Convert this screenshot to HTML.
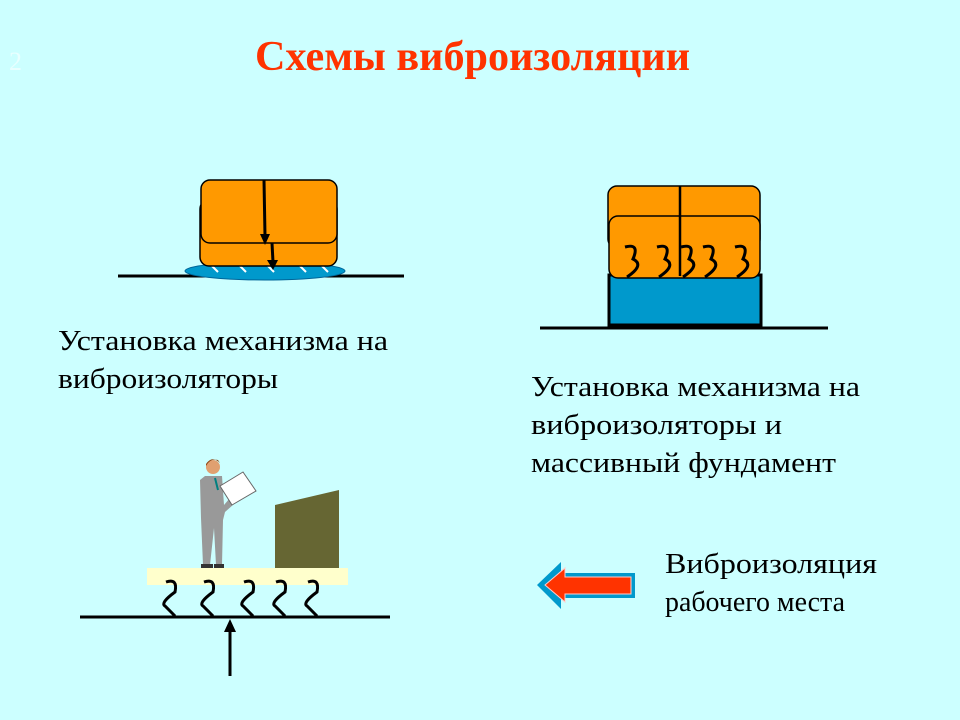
<!DOCTYPE html>
<html><head><meta charset="utf-8"><style>
html,body{margin:0;padding:0;background:#ccffff;}
svg{display:block}
text{font-family:"Liberation Serif",serif;}
</style></head><body>
<svg width="960" height="720" viewBox="0 0 960 720" xmlns="http://www.w3.org/2000/svg">
<rect width="960" height="720" fill="#ccffff"/>
<text x="9" y="70" font-size="26" fill="#e8ffff">2</text>
<text x="255" y="70" font-size="42" font-weight="bold" fill="#ff3300" textLength="435" lengthAdjust="spacingAndGlyphs">Схемы виброизоляции</text>

<!-- diagram 1 -->
<line x1="118" y1="276" x2="404" y2="276" stroke="#000" stroke-width="3"/>
<ellipse cx="265" cy="271" rx="80" ry="9" fill="#0099cc" stroke="#006699" stroke-width="1"/>
<g stroke="#fff" stroke-width="2"><line x1="212" y1="266" x2="218" y2="272"/><line x1="240" y1="266" x2="246" y2="272"/><line x1="268" y1="266" x2="274" y2="272"/><line x1="300" y1="266" x2="306" y2="272"/><line x1="322" y1="266" x2="328" y2="272"/></g>
<rect x="200" y="200" width="137" height="66" rx="9" fill="#ff9900" stroke="#000" stroke-width="1.5"/>
<rect x="201" y="180" width="136" height="63" rx="9" fill="#ff9900" stroke="#000" stroke-width="1.5"/>
<line x1="264" y1="180" x2="265" y2="236" stroke="#000" stroke-width="3"/>
<polygon points="260,234 270,234 265,245" fill="#000"/>
<line x1="272" y1="243" x2="273" y2="262" stroke="#000" stroke-width="3"/>
<polygon points="267,260 278,260 273,270" fill="#000"/>

<!-- diagram 2 -->
<line x1="540" y1="328" x2="828" y2="328" stroke="#000" stroke-width="3"/>
<rect x="609" y="275" width="152" height="50" fill="#0099cc" stroke="#000" stroke-width="3"/>
<rect x="608" y="186" width="152" height="62" rx="9" fill="#ff9900" stroke="#000" stroke-width="1.5"/>
<rect x="609" y="216" width="151" height="62" rx="9" fill="#ff9900" stroke="#000" stroke-width="1.5"/>
<line x1="680" y1="186" x2="680" y2="276" stroke="#000" stroke-width="2.5"/>
<g fill="none" stroke="#000" stroke-width="3">
<path d="M625,247 Q640,243 633,259 Q645,265 627,277"/>
<path d="M657,247 Q672,243 665,259 Q677,265 659,277"/>
<path d="M681,247 Q696,243 689,259 Q701,265 683,277"/>
<path d="M703,247 Q718,243 711,259 Q723,265 705,277"/>
<path d="M735,247 Q750,243 743,259 Q755,265 737,277"/>
</g>

<text x="58" y="350" font-size="29" textLength="330" lengthAdjust="spacingAndGlyphs">Установка механизма на</text>
<text x="58" y="388" font-size="29" textLength="220" lengthAdjust="spacingAndGlyphs">виброизоляторы</text>
<text x="531" y="396" font-size="29" textLength="329" lengthAdjust="spacingAndGlyphs">Установка механизма на</text>
<text x="531" y="434" font-size="29" textLength="251" lengthAdjust="spacingAndGlyphs">виброизоляторы и</text>
<text x="531" y="472" font-size="29" textLength="305" lengthAdjust="spacingAndGlyphs">массивный фундамент</text>
<text x="665" y="573" font-size="29" textLength="212" lengthAdjust="spacingAndGlyphs">Виброизоляция</text>
<text x="665" y="611" font-size="29" textLength="180" lengthAdjust="spacingAndGlyphs">рабочего места</text>

<!-- diagram 3 -->
<rect x="147" y="568" width="201" height="17" fill="#ffffcc"/>
<polygon points="275,505 339,490 339,568 275,568" fill="#666633"/>
<line x1="80" y1="617" x2="390" y2="617" stroke="#000" stroke-width="3"/>
<g fill="none" stroke="#000" stroke-width="3">
<path d="M166,582 Q178,578 175,592 Q160,603 165,606 L175,616"/>
<path d="M204,582 Q216,578 213,592 Q198,603 203,606 L213,616"/>
<path d="M244,582 Q256,578 253,592 Q238,603 243,606 L253,616"/>
<path d="M276,582 Q288,578 285,592 Q270,603 275,606 L285,616"/>
<path d="M308,582 Q320,578 317,592 Q302,603 307,606 L317,616"/>
</g>
<line x1="230" y1="676" x2="230" y2="630" stroke="#000" stroke-width="3"/>
<polygon points="224,632 236,632 230,619" fill="#000"/>
<!-- person -->
<circle cx="213" cy="467" r="7" fill="#e0a070"/>
<path d="M206,464 Q212,455 220,463 L218,460 Q210,458 206,466Z" fill="#8b4513"/>
<polygon points="205,476 222,476 224,505 230,498 234,504 225,512 223,520 222,565 216,565 214,528 210,565 203,565 201,518 200,480" fill="#999"/>
<line x1="215" y1="478" x2="218" y2="490" stroke="#008080" stroke-width="2"/>
<polygon points="220,486 243,472 256,491 232,505" fill="#fff" stroke="#666" stroke-width="1"/>
<rect x="201" y="564" width="12" height="4" fill="#333"/>
<rect x="214" y="564" width="10" height="4" fill="#333"/>

<!-- arrow -->
<polygon points="537,585 561,562 561,573 635,573 635,598 561,598 561,609" fill="#0099cc"/>
<polygon points="545,585 565,568 565,577 631,577 631,594 565,594 565,602" fill="#ff3300" stroke="#ffcccc" stroke-width="1"/>
</svg>
</body></html>
